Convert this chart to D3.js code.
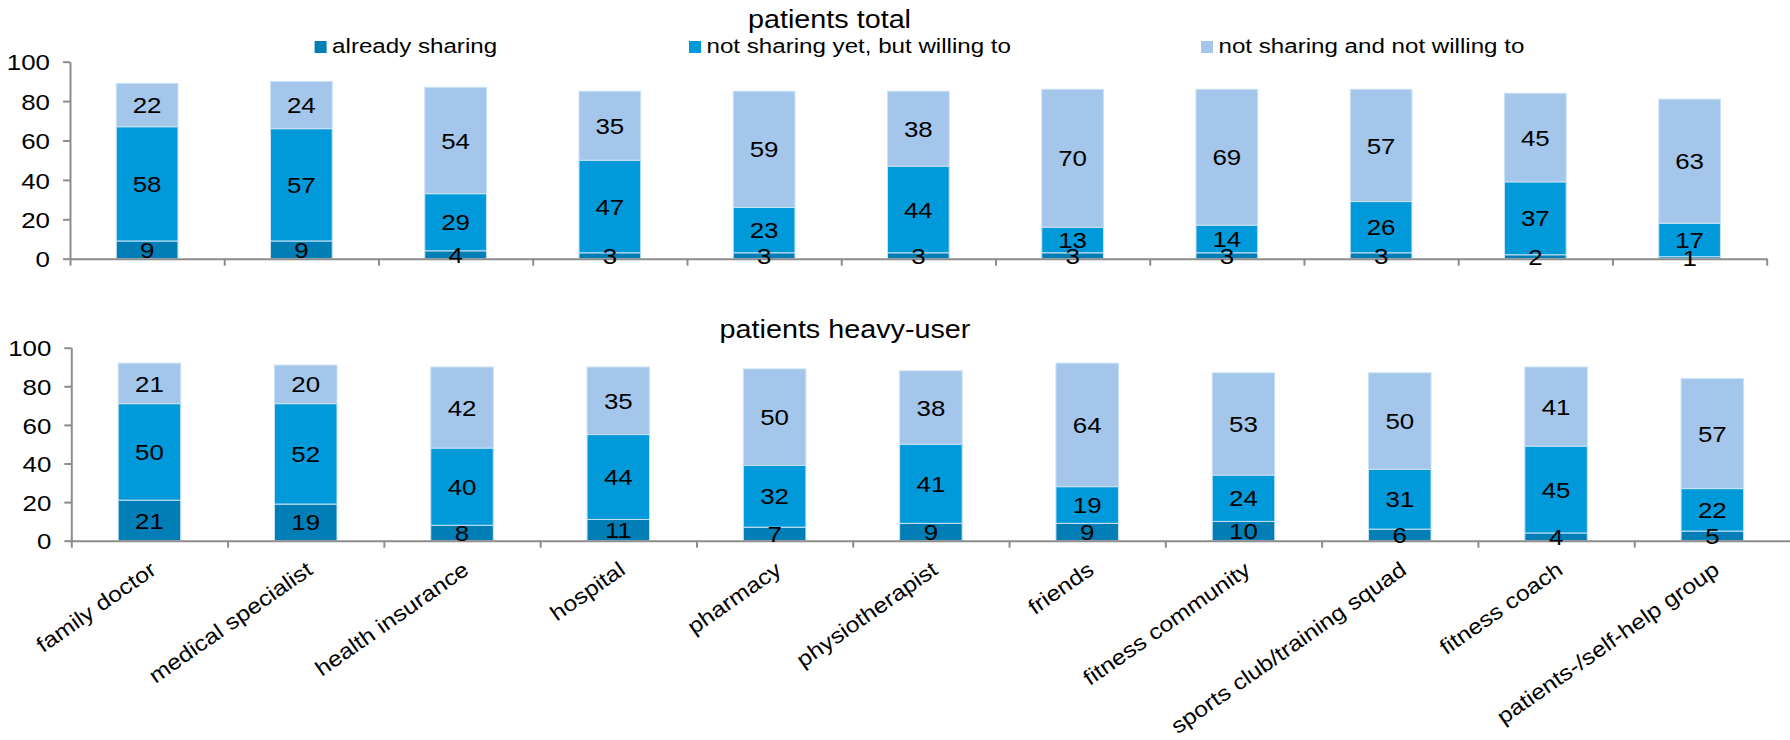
<!DOCTYPE html>
<html>
<head>
<meta charset="utf-8">
<script src="https://cdn.jsdelivr.net/npm/d3@7/dist/d3.min.js"></script>
<style>
  html, body { margin: 0; padding: 0; background: #ffffff; }
  svg { display: block; font-family: "Liberation Sans", Arial, sans-serif; }
</style>
</head>
<body>
<svg id="chart" width="1790" height="740"></svg>
<script>
// Categories (who patients share data with)
const categories = [
  "family doctor", "medical specialist", "health insurance", "hospital",
  "pharmacy", "physiotherapist", "friends", "fitness community",
  "sports club/training squad", "fitness coach", "patients-/self-help group"
];

const seriesNames = [
  "already sharing",
  "not sharing yet, but willing to",
  "not sharing and not willing to"
];

// patients total (%)
const totalAlready = [9, 9, 4, 3, 3, 3, 3, 3, 3, 2, 1];
const totalWilling = [58, 57, 29, 47, 23, 44, 13, 14, 26, 37, 17];
const totalNot     = [22, 24, 54, 35, 59, 38, 70, 69, 57, 45, 63];

// patients heavy-user (%)
const heavyAlready = [21, 19, 8, 11, 7, 9, 9, 10, 6, 4, 5];
const heavyWilling = [50, 52, 40, 44, 32, 41, 19, 24, 31, 45, 22];
const heavyNot     = [21, 20, 42, 35, 50, 38, 64, 53, 50, 41, 57];

const yTicks = [0, 20, 40, 60, 80, 100];
const panelTitles = ["patients total", "patients heavy-user"];

const colors = ["#007eb5", "#009ada", "#a3c6ea"];
const SX = 1.15;             // horizontal stretch applied to all text
const axisColor = "#8c8c8c";

const svg = d3.select("#chart");

// helper: text stretched horizontally around its anchor point
function label(g, x, y, txt, size, anchor, extra) {
  return g.append("text")
    .attr("transform", `translate(${x},${y}) ${extra || ""} scale(${SX},1)`)
    .attr("text-anchor", anchor)
    .attr("font-size", size)
    .attr("fill", "#000")
    .text(txt);
}

const panels = [
  { title: panelTitles[0], series: [totalAlready, totalWilling, totalNot],
    xRange: [70, 1766.7], yRange: [258.7, 61.7], titleX: 829.5, titleY: 28, xLabels: false },
  { title: panelTitles[1], series: [heavyAlready, heavyWilling, heavyNot],
    xRange: [71.3, 1790.5], yRange: [540.7, 347.7], titleX: 845, titleY: 338, xLabels: true }
];

panels.forEach(p => {
  const g = svg.append("g");

  const x = d3.scaleBand().domain(categories).range(p.xRange)
    .paddingInner(0.6).paddingOuter(0.3);
  const y = d3.scaleLinear().domain([0, 100]).range(p.yRange);
  const xEdge = d3.scaleLinear().domain([0, categories.length]).range(p.xRange);

  const rows = categories.map((c, i) => {
    const r = { cat: c };
    seriesNames.forEach((s, k) => { r[s] = p.series[k][i]; });
    return r;
  });
  const stacked = d3.stack().keys(seriesNames)(rows);

  // bars
  const layers = g.append("g").selectAll("g").data(stacked).join("g")
    .attr("fill", (d, i) => colors[i]);
  layers.selectAll("rect").data(d => d).join("rect")
    .attr("x", d => x(d.data.cat))
    .attr("width", x.bandwidth())
    .attr("y", d => y(d[1]))
    .attr("height", d => y(d[0]) - y(d[1]))
    .attr("stroke", "#c9e2f5")
    .attr("stroke-width", 1);

  // y axis
  const yAxis = g.append("g")
    .attr("transform", `translate(${p.xRange[0]},0)`)
    .call(d3.axisLeft(y).tickValues(yTicks).tickSize(7).tickSizeOuter(0).tickPadding(13));
  yAxis.select(".domain").attr("stroke", axisColor).attr("stroke-width", 2);
  yAxis.selectAll(".tick line").attr("stroke", axisColor).attr("stroke-width", 2);
  yAxis.selectAll(".tick text")
    .attr("font-size", 22.5)
    .attr("font-family", "Liberation Sans, Arial, sans-serif")
    .attr("fill", "#000")
    .attr("x", -20 / SX)
    .attr("dy", "0.36em")
    .attr("transform", `scale(${SX},1)`);

  // x axis with ticks at category boundaries
  const xAxis = g.append("g")
    .attr("transform", `translate(0,${p.yRange[0]})`)
    .call(d3.axisBottom(xEdge).tickValues(d3.range(categories.length + 1))
      .tickSize(7).tickSizeOuter(0).tickFormat(""));
  xAxis.select(".domain").attr("stroke", axisColor).attr("stroke-width", 2);
  xAxis.selectAll(".tick line").attr("stroke", axisColor).attr("stroke-width", 2);

  // value labels centred in each segment
  const lbl = g.append("g");
  stacked.forEach(layer => {
    layer.forEach(d => {
      label(lbl, x(d.data.cat) + x.bandwidth() / 2, (y(d[0]) + y(d[1])) / 2,
            d[1] - d[0], 22.5, "middle").attr("dy", "0.36em");
    });
  });

  // panel title
  label(g, p.titleX, p.titleY, p.title, 25, "middle");

  // rotated category labels
  if (p.xLabels) {
    categories.forEach(c => {
      label(g, x(c) + x.bandwidth() / 2 + 4, p.yRange[0] + 26, c, 21.5, "end", "rotate(-35)")
        .attr("dy", "0.35em");
    });
  }
});

// legend
const legendX = [314.6, 689, 1201];
const legend = svg.append("g");
seriesNames.forEach((s, i) => {
  legend.append("rect")
    .attr("x", legendX[i]).attr("y", 41)
    .attr("width", 12).attr("height", 12)
    .attr("fill", colors[i]);
  label(legend, legendX[i] + 17.5, 53.4, s, 21, "start");
});
</script>
</body>
</html>
